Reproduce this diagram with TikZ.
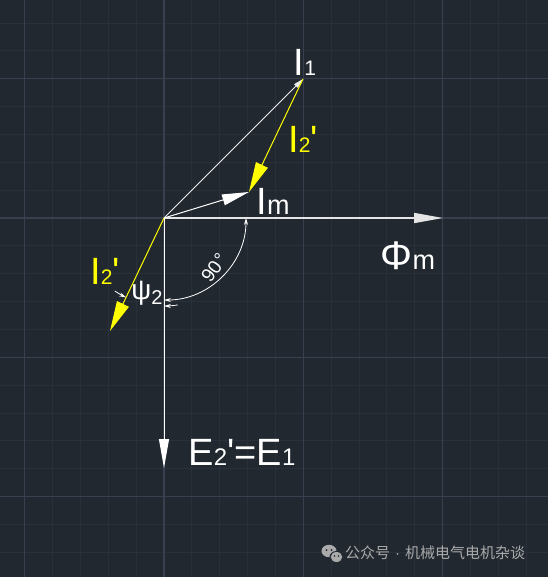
\documentclass[tikz,border=0pt]{standalone}
\usepackage{fontspec}
\setmainfont{Liberation Sans}
\newfontfamily\cjkfont{Noto Sans CJK SC}
\usetikzlibrary{arrows.meta}
\usetikzlibrary{positioning}
\definecolor{bgcol}{RGB}{33,40,48}
\definecolor{minorcol}{RGB}{41,48,58}
\definecolor{majorcol}{RGB}{56,63,78}
\definecolor{vecyel}{RGB}{255,255,0}
\definecolor{markgray}{RGB}{170,170,170}
\newcommand{\bigtxt}{\fontsize{38bp}{40bp}\selectfont}
\newcommand{\subtxt}{\fontsize{21bp}{22bp}\selectfont}
\newcommand{\msubtxt}{\fontsize{27bp}{28bp}\selectfont}
\newcommand{\esubtxt}{\fontsize{24bp}{26bp}\selectfont}
\newcommand{\prm}{\textquotesingle}
\tikzset{lbl/.style={text=white,inner sep=0pt,font=\bigtxt}}
\tikzset{ylbl/.style={text=vecyel,inner sep=0pt,font=\bigtxt}}

\begin{document}
\begin{tikzpicture}[x=1bp,y=1bp]
\tikzset{bigtip/.style={-{Triangle[length=29bp,width=10bp]}},
  dimarc/.style={draw=white,line width=0.8bp}}
\useasboundingbox (-164,-359) rectangle (384,218);
\fill[bgcol] (-164,-359) rectangle (384,218);
% grid
\foreach \i in {-5,...,13}
  \draw[minorcol,line width=0.8bp] (\i*27.86,-359) -- (\i*27.86,218);
\foreach \j in {-12,...,7}
  \draw[minorcol,line width=0.8bp] (-164,\j*27.86) -- (384,\j*27.86);
\foreach \i in {-1,0,1,2}
  \draw[majorcol,line width=1.2bp] (\i*139.3,-359) -- (\i*139.3,218);
\foreach \j in {-2,-1,0,1}
  \draw[majorcol,line width=1.2bp] (-164,\j*139.3) -- (384,\j*139.3);

\coordinate (O) at (0,0);
\coordinate (phi) at (279,0);
\coordinate (e) at (0,-250);
\coordinate (i1) at (139,139);
\coordinate (im) at (85,26);
\coordinate (i2) at (-54,-113);

\draw[white!80!gray,line width=1.6bp,bigtip] (O) -- (phi);
\draw[white,line width=1bp,bigtip] (O) -- (e);
\draw[white!85!gray,line width=1bp,-{Triangle[length=10bp,width=5bp]}] (O) -- (i1);
\draw[white,line width=1bp,-{Triangle[length=27bp,width=11bp]}] (O) -- (im);
\draw[vecyel,line width=1bp,-{Triangle[length=30bp,width=13bp]}] (i1) -- (im);
\draw[vecyel,line width=1bp,-{Triangle[length=30bp,width=13bp]}] (O) -- (i2);

% angles
\draw[dimarc,{Stealth[length=7bp,width=4bp]}-{Stealth[length=7bp,width=4bp]}] (O) ++(0:82) arc[start angle=0,end angle=-90,radius=82];
\draw[dimarc,-{Stealth[length=7bp,width=4bp]}] (O) ++(-124:88) arc[start angle=-124,end angle=-115.5,radius=88];
\draw[dimarc,-{Stealth[length=7bp,width=4bp]}] (O) ++(-81:88) arc[start angle=-81,end angle=-90,radius=88];

\node[lbl] (i1lbl) at (141,156) {I{\subtxt 1}};
\node[ylbl] (i2ulbl) at (139,79) {I{\subtxt 2}\prm};
\node[lbl] (imlbl) at (109,17) {I{\msubtxt m}};
\node[lbl] (philbl) at (244,-38) {\fontsize{40bp}{42bp}\selectfont Φ{\msubtxt m}};
\node[ylbl] (i2llbl) at (-59,-53) {I{\subtxt 2}\prm};
\node[text=white,inner sep=0pt] (psilbl) at (-17,-75) {\fontsize{28bp}{30bp}\selectfont ψ\raisebox{-5bp}{\fontsize{20bp}{22bp}\selectfont 2}};
\node[text=white,inner sep=0pt,rotate=54] (anglbl) at (50,-50) {\fontsize{19bp}{21bp}\selectfont 90\kern1bp°};
\node[lbl] (elbl) at (78,-234) {E{\esubtxt 2}\prm={\bigtxt E}{\esubtxt 1}};

% watermark
\fill[markgray] (165,-333) ellipse (7.5 and 6.2);
\fill[bgcol] (172.5,-339) ellipse (7 and 6);
\fill[markgray] (172.5,-339) ellipse (5.8 and 5);
\fill[bgcol] (162.5,-332) circle (1) (167.5,-332) circle (1) (170.5,-338) circle (0.8) (174.5,-338) circle (0.8);
\node[text=markgray,inner sep=0pt,anchor=west] (mark) at (181,-335) {\cjkfont\fontsize{15bp}{17bp}\selectfont 公众号\hspace{5bp}{\rmfamily ·}\hspace{5bp}机械电气电机杂谈};
\end{tikzpicture}
\end{document}
